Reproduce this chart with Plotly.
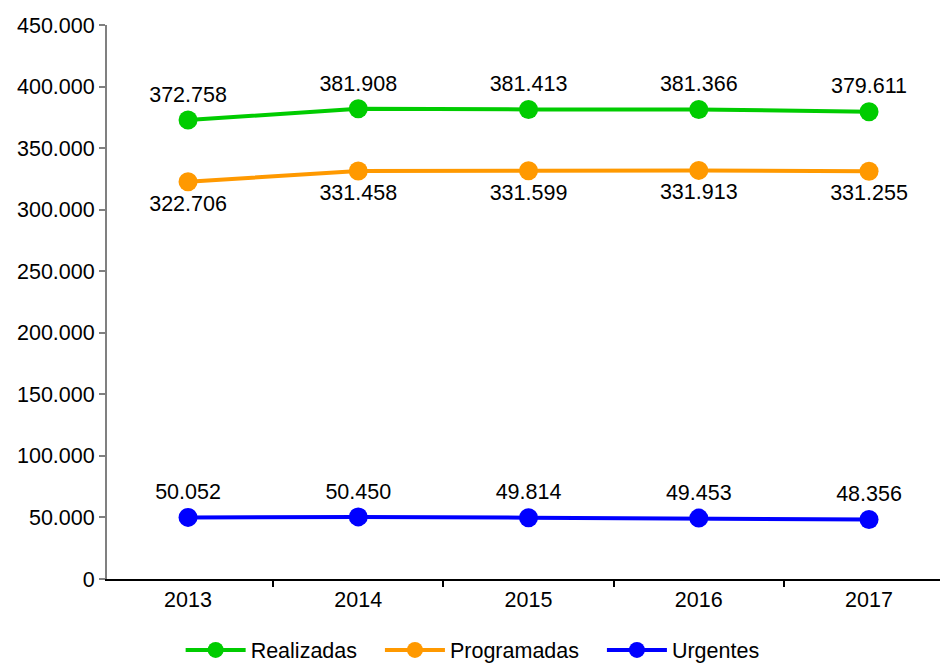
import plotly.graph_objects as go

years = ["2013", "2014", "2015", "2016", "2017"]
realizadas = [372758, 381908, 381413, 381366, 379611]
programadas = [322706, 331458, 331599, 331913, 331255]
urgentes = [50052, 50450, 49814, 49453, 48356]

series = [
    ("Realizadas", realizadas, "#00CC00", "top center"),
    ("Programadas", programadas, "#FF9900", "bottom center"),
    ("Urgentes", urgentes, "#0000FF", "top center"),
]

FONT = "Liberation Sans, Arial"
FS = 21.5

fig = go.Figure()
for name, vals, color, pos in series:
    fig.add_trace(go.Scatter(
        x=years, y=vals, name=name + "   ", mode="lines+markers+text",
        line=dict(color=color, width=4),
        marker=dict(color=color, size=19),
        text=vals, texttemplate="%{y:,}", textposition=pos,
        textfont=dict(family=FONT, size=FS, color="#000000"),
        cliponaxis=False,
    ))

fig.update_layout(
    width=940, height=656,
    margin=dict(l=99, r=1, t=17, b=85, autoexpand=False),
    paper_bgcolor="white", plot_bgcolor="white",
    separators=",.",
    font=dict(family=FONT, size=FS, color="#000000"),
    showlegend=True,
    legend=dict(orientation="h", x=0.446, xanchor="center", y=-0.128, yanchor="middle",
                font=dict(size=FS), traceorder="normal", itemwidth=60),
)
fig.update_xaxes(
    type="category", range=[-0.476, 4.458], automargin=False,
    tickson="boundaries", ticks="outside", ticklen=6, tickwidth=2, tickcolor="#000000",
    showline=True, linecolor="#000000", linewidth=2, showgrid=False, zeroline=False,
    tickfont=dict(size=FS),
)
fig.update_yaxes(
    range=[0, 450000], tickvals=list(range(0, 450001, 50000)), tickformat=",d",
    automargin=False,
    ticks="outside", ticklen=6, tickwidth=2, tickcolor="#808080",
    showline=True, linecolor="#808080", linewidth=2, showgrid=False, zeroline=False,
    tickfont=dict(size=FS),
)

fig.write_html("out.html")
